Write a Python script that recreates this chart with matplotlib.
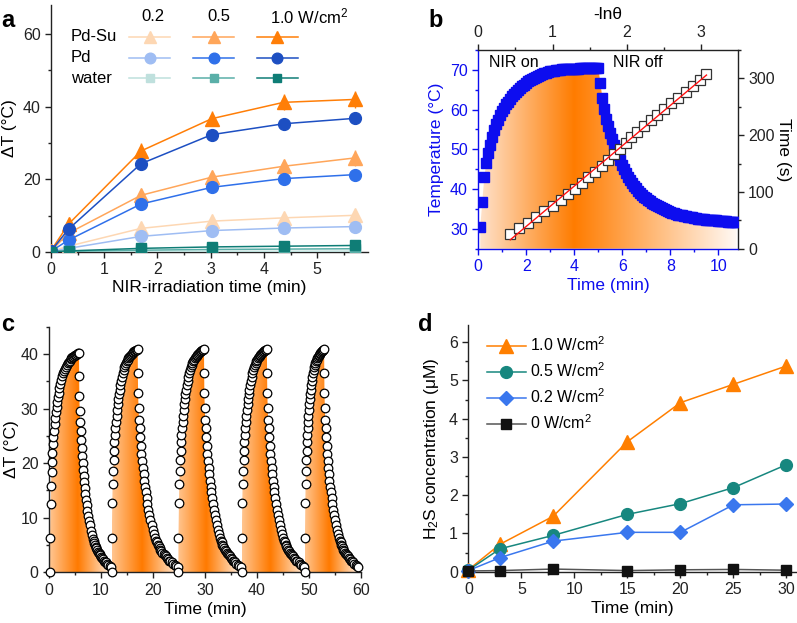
import numpy as np
import matplotlib.pyplot as plt
from matplotlib.colors import LinearSegmentedColormap
from matplotlib.ticker import MultipleLocator

plt.rcParams['font.family'] = ['Liberation Sans', 'DejaVu Sans']
plt.rcParams['mathtext.fontset'] = 'custom'
plt.rcParams['mathtext.rm'] = 'Liberation Sans'
plt.rcParams['mathtext.it'] = 'Liberation Sans:italic'
plt.rcParams['mathtext.bf'] = 'Liberation Sans:bold'

# ---------------- panel a data ----------------
t_a = [0, 0.33, 1.69, 3.02, 4.37, 5.71]
pdsu_10 = [0.4, 7.7, 27.8, 36.7, 41.2, 42.0]
pdsu_05 = [0.3, 5.2, 15.6, 20.6, 23.6, 25.9]
pdsu_02 = [0.2, 1.6, 6.5, 8.5, 9.4, 10.1]
pd_10 = [0.3, 6.3, 24.3, 32.3, 35.3, 36.8]
pd_05 = [0.2, 3.3, 13.2, 17.8, 20.2, 21.3]
pd_02 = [0.1, 1.0, 4.3, 5.9, 6.6, 7.0]
wat_10 = [0.1, 0.3, 1.0, 1.4, 1.6, 1.8]
wat_05 = [0.1, 0.2, 0.5, 0.7, 0.8, 0.9]
wat_02 = [0.0, 0.1, 0.1, 0.2, 0.2, 0.25]
err_pdsu_10 = [0, 0.8, 2.2, 2.0, 2.2, 2.3]
err_pdsu_05 = [0, 0.5, 1.8, 1.5, 1.8, 2.2]
err_small = [0, 0.3, 0.8, 0.8, 0.8, 0.8]

# ---------------- panel b data ----------------
t_b_heat_s = np.arange(5, 305, 5)
T_b_heat = [30.5, 36.8, 43.0, 46.5, 49.2, 51.2, 53.1, 54.8, 56.3, 57.5,
            58.6, 59.6, 60.5, 61.3, 62.0, 62.7, 63.4, 64.0, 64.5, 65.0,
            65.5, 65.9, 66.3, 66.7, 67.1, 67.4, 67.7, 68.0, 68.3, 68.5,
            68.7, 68.9, 69.1, 69.3, 69.5, 69.6, 69.7, 69.8, 69.9, 70.0,
            70.0, 70.1, 70.1, 70.2, 70.2, 70.2, 70.3, 70.3, 70.3, 70.3,
            70.4, 70.4, 70.4, 70.4, 70.4, 70.5, 70.5, 70.5, 70.5, 70.5]
t_b_cool_s = np.arange(305, 650, 5)
T_b_cool = [66.6, 63.0, 60.1, 57.6, 55.8, 54.2, 52.6, 51.1, 49.7, 48.5,
            47.3, 46.1, 45.0, 44.0, 43.1, 42.2, 41.5, 40.8, 40.2, 39.6,
            39.1, 38.6, 38.1, 37.7, 37.3, 36.9, 36.6, 36.3, 36.0, 35.7,
            35.4, 35.2, 34.9, 34.7, 34.5, 34.3, 34.1, 33.9, 33.8, 33.6,
            33.5, 33.4, 33.3, 33.2, 33.1, 33.0, 32.9, 32.8, 32.7, 32.6,
            32.5, 32.5, 32.4, 32.3, 32.3, 32.2, 32.2, 32.1, 32.1, 32.0,
            32.0, 31.9, 31.9, 31.9, 31.8, 31.8, 31.8, 31.7, 31.7]
lntheta = [0.43, 0.55, 0.67, 0.78, 0.88, 1.00, 1.11, 1.21, 1.30, 1.39,
           1.48, 1.57, 1.66, 1.74, 1.82, 1.90, 1.99, 2.06, 2.14, 2.23,
           2.32, 2.41, 2.50, 2.59, 2.69, 2.80, 2.89, 2.98, 3.07]
t_lntheta = [26, 36, 46, 56, 66, 76, 86, 96, 106, 116, 126, 136, 146, 156,
             166, 176, 186, 196, 206, 216, 226, 236, 246, 256, 266, 276,
             287, 297, 307]

# ---------------- panel c data (cycle 1 read, other cycles share its shape) ----------------
c_heat_t = [0.17, 0.19, 0.30, 0.38, 0.48, 0.58, 0.65, 0.72, 0.83, 0.96,
            1.09, 1.22, 1.35, 1.47, 1.60, 1.73, 1.86, 1.99, 2.18, 2.37,
            2.56, 2.76, 2.92, 3.08, 3.25, 3.42, 3.60, 3.78, 3.96, 4.14,
            4.32, 4.50, 4.68, 4.86, 5.04, 5.22, 5.40, 5.58, 5.77]
c_heat_T = [0.0, 6.2, 12.5, 15.9, 18.3, 20.3, 21.8, 23.5, 24.7, 25.9,
            27.1, 28.2, 29.3, 30.3, 31.2, 32.1, 32.9, 33.7, 34.5, 35.2,
            35.9, 36.5, 36.9, 37.3, 37.7, 38.0, 38.3, 38.6, 38.8, 39.0,
            39.2, 39.4, 39.5, 39.7, 39.8, 39.9, 40.0, 40.1, 40.2]
c_cool_t = [5.80, 5.83, 5.90, 5.96, 6.09, 6.15, 6.28, 6.35, 6.47, 6.54,
            6.67, 6.73, 6.86, 6.99, 7.12, 7.24, 7.37, 7.56, 7.69, 7.88,
            8.08, 8.27, 8.46, 8.60, 8.72, 8.85, 8.97, 9.10, 9.23, 9.39,
            9.55, 9.71, 9.87, 10.03, 10.19, 10.38, 10.58, 10.77, 10.96, 11.18,
            11.41, 11.66, 11.92]
c_cool_T = [35.9, 32.3, 29.6, 27.5, 25.9, 24.3, 22.8, 21.3, 20.1, 18.8,
            17.7, 16.5, 15.4, 14.4, 13.3, 12.3, 11.3, 10.3, 9.4, 8.6,
            7.6, 6.9, 6.1, 5.7, 5.4, 5.0, 4.7, 4.4, 4.1, 3.8,
            3.5, 3.3, 3.1, 2.85, 2.6, 2.35, 2.1, 1.95, 1.8, 1.55,
            1.3, 1.1, 0.9]
cyc_start = [0.17, 12.05, 24.87, 37.05, 49.2]
cyc_peak = [5.77, 17.05, 29.8, 41.9, 52.9]
cyc_end = [11.92, 24.8, 36.9, 49.1, 59.5]
cyc_max = [40.2, 40.9, 40.9, 40.9, 40.9]

# ---------------- panel d data ----------------
t_d = [0, 3, 8, 15, 20, 25, 30]
h2s_10 = [0.05, 0.72, 1.45, 3.40, 4.42, 4.90, 5.38]
h2s_05 = [0.04, 0.60, 0.95, 1.50, 1.78, 2.20, 2.80]
h2s_02 = [0.03, 0.37, 0.80, 1.03, 1.03, 1.75, 1.77]
h2s_00 = [0.02, 0.03, 0.07, 0.03, 0.05, 0.06, 0.04]
d_labels = ['1.0 W/cm$^\\mathregular{2}$', '0.5 W/cm$^\\mathregular{2}$',
            '0.2 W/cm$^\\mathregular{2}$', '0 W/cm$^\\mathregular{2}$']

TICK = 11.5
LAB = 12.5
cmap_b = LinearSegmentedColormap.from_list('b', [(0, '#fee4cf'), (0.37, '#ff7c00'), (1, '#fffaf6')])
cmap_c = LinearSegmentedColormap.from_list('c', [(0, '#ffc590'), (0.45, '#ff7a00'), (1, '#ffefe0')])


def grad_fill(ax, x, y, y0, x0, x1, ytop, cmap):
    poly = ax.fill_between(x, y, y0, facecolor='none', edgecolor='none')
    im = ax.imshow(np.linspace(0, 1, 256)[None, :], extent=[x0, x1, y0, ytop],
                   aspect='auto', cmap=cmap, origin='lower', zorder=1,
                   interpolation='bilinear')
    im.set_clip_path(poly.get_paths()[0], transform=ax.transData)


def style(ax, color='#222222'):
    ax.tick_params(which='both', direction='out', width=1, labelsize=TICK,
                   colors=color)
    ax.tick_params(which='major', length=4)
    ax.tick_params(which='minor', length=2.5)
    for s in ax.spines.values():
        s.set_linewidth(1)
        s.set_color(color)


fig = plt.figure(figsize=(7.97, 6.23), dpi=100)

# ======== a ========
ax = fig.add_axes([0.064, 0.5955, 0.398, 0.3965])
a_series = [
    (pdsu_02, '#fdd7b3', '^', 9.5, err_small),
    (pd_02, '#9fbdf3', 'o', 8.5, err_small),
    (wat_02, '#bfe0dd', 's', 7, None),
    (pdsu_05, '#ffa65a', '^', 9.5, err_pdsu_05),
    (pd_05, '#2f70ea', 'o', 8.5, err_small),
    (wat_05, '#5aafa8', 's', 7, None),
    (pdsu_10, '#ff7e07', '^', 9.5, err_pdsu_10),
    (pd_10, '#1d4fc2', 'o', 8.5, err_small),
    (wat_10, '#0f7d76', 's', 7, None),
]
handles = []
for vals, col, mk, ms, err in a_series:
    if err is not None:
        ax.errorbar(t_a, vals, yerr=err, fmt='none', ecolor=col, elinewidth=1,
                    capsize=0, zorder=2)
    h, = ax.plot(t_a, vals, color=col, marker=mk, ms=ms, lw=1.1,
                 mec=col, zorder=3)
    handles.append(h)
ax.set_xlim(0, 5.96)
ax.set_ylim(0, 68)
ax.xaxis.set_major_locator(MultipleLocator(1))
ax.xaxis.set_minor_locator(MultipleLocator(0.5))
ax.yaxis.set_major_locator(MultipleLocator(20))
ax.yaxis.set_minor_locator(MultipleLocator(10))
ax.spines['top'].set_visible(False)
ax.spines['right'].set_visible(False)
style(ax)
ax.set_xlabel('NIR-irradiation time (min)', fontsize=LAB, labelpad=2)
ax.set_ylabel('ΔT (°C)', fontsize=LAB, labelpad=4)
ax.legend(handles, [' '] * 9, ncol=3, loc='upper left',
          bbox_to_anchor=(0.245, 0.895), frameon=False, fontsize=12,
          handlelength=2.5, handletextpad=0, columnspacing=1.06,
          labelspacing=0.33, borderpad=0, borderaxespad=0, markerscale=0.9)
for lab, xf in [('0.2', 0.321), ('0.5', 0.529)]:
    ax.text(xf, 0.955, lab, transform=ax.transAxes, ha='center', va='center',
            fontsize=12)
ax.text(0.69, 0.955, '1.0 W/cm$^\\mathregular{2}$', transform=ax.transAxes,
        ha='left', va='center', fontsize=12)
for lab, yf in [('Pd-Su', 0.872), ('Pd', 0.788), ('water', 0.703)]:
    ax.text(0.062, yf, lab, transform=ax.transAxes, ha='left', va='center',
            fontsize=12)
fig.text(0.002, 0.985, 'a', fontsize=17, fontweight='bold', va='top')

# ======== b ========
BLUE = '#0d0def'
pos_b = [0.6001, 0.6008, 0.3255, 0.3189]
axb = fig.add_axes(pos_b)
tb = np.concatenate([t_b_heat_s, t_b_cool_s]) / 60.0
Tb = np.concatenate([T_b_heat, T_b_cool])
grad_fill(axb, tb, Tb, 25, 0, 10.8, 72, cmap_b)
axb.plot(tb, Tb, ls='none', marker='s', ms=6.8, color=BLUE, mec=BLUE, zorder=3)
axb.set_xlim(0, 10.8)
axb.set_ylim(25, 75)
axb.xaxis.set_major_locator(MultipleLocator(2))
axb.xaxis.set_minor_locator(MultipleLocator(1))
axb.yaxis.set_major_locator(MultipleLocator(10))
axb.yaxis.set_minor_locator(MultipleLocator(5))
style(axb, BLUE)
axb.spines['top'].set_color('#222222')
axb.spines['right'].set_color('#222222')
axb.set_xlabel('Time (min)', fontsize=LAB, color=BLUE, labelpad=3)
axb.set_ylabel('Temperature (°C)', fontsize=LAB, color=BLUE, labelpad=4)
axb.text(0.45, 71.8, 'NIR on', fontsize=11.5, va='center', zorder=5)
axb.text(5.6, 71.8, 'NIR off', fontsize=11.5, va='center', zorder=5)

ax2 = fig.add_axes(pos_b, frameon=False)
ax2.plot(lntheta, t_lntheta, ls='none', marker='s', ms=6.6, mfc='white',
         mec='#333333', mew=0.9, zorder=3)
k, b0 = np.polyfit(lntheta, t_lntheta, 1)
xf = np.array([min(lntheta), max(lntheta)])
ax2.plot(xf, k * xf + b0, color='#ff1010', lw=1.0, zorder=4)
ax2.set_xlim(0, 3.49)
ax2.set_ylim(0, 350)
ax2.xaxis.set_ticks_position('top')
ax2.xaxis.set_label_position('top')
ax2.yaxis.set_ticks_position('right')
ax2.yaxis.set_label_position('right')
ax2.xaxis.set_major_locator(MultipleLocator(1))
ax2.xaxis.set_minor_locator(MultipleLocator(0.5))
ax2.yaxis.set_major_locator(MultipleLocator(100))
ax2.yaxis.set_minor_locator(MultipleLocator(50))
style(ax2)
ax2.set_xlabel('-lnθ', fontsize=LAB, labelpad=4)
ax2.set_ylabel('Time (s)', fontsize=LAB, rotation=270, labelpad=12)
fig.text(0.538, 0.985, 'b', fontsize=17, fontweight='bold', va='top')

# ======== c ========
axc = fig.add_axes([0.0615, 0.0814, 0.3915, 0.3942])
h0, p0, e0 = cyc_start[0], cyc_peak[0], cyc_end[0]
for s, p, e, m in zip(cyc_start, cyc_peak, cyc_end, cyc_max):
    th = s + (np.array(c_heat_t) - h0) * (p - s) / (p0 - h0)
    tc = p + (np.array(c_cool_t) - p0) * (e - p) / (e0 - p0)
    tt = np.concatenate([th, tc])
    TT = np.concatenate([c_heat_T, c_cool_T]) * m / cyc_max[0]
    grad_fill(axc, tt, TT, 0, s, e, 42, cmap_c)
    axc.plot(tt, TT, ls='none', marker='o', ms=6.2, mfc='white',
             mec='black', mew=0.9, zorder=3, clip_on=False)
axc.set_xlim(0, 60)
axc.set_ylim(0, 45)
axc.xaxis.set_major_locator(MultipleLocator(10))
axc.xaxis.set_minor_locator(MultipleLocator(5))
axc.yaxis.set_major_locator(MultipleLocator(10))
axc.yaxis.set_minor_locator(MultipleLocator(5))
axc.spines['top'].set_visible(False)
axc.spines['right'].set_visible(False)
style(axc)
axc.set_xlabel('Time (min)', fontsize=LAB, labelpad=3)
axc.set_ylabel('ΔT (°C)', fontsize=LAB, labelpad=1)
fig.text(0.002, 0.497, 'c', fontsize=17, fontweight='bold', va='top')

# ======== d ========
axd = fig.add_axes([0.5876, 0.0823, 0.4112, 0.396])
d_series = [
    (h2s_10, '#ff7f00', '^', 9.5),
    (h2s_05, '#17877f', 'o', 8.5),
    (h2s_02, '#3a77ee', 'D', 7.5),
    (h2s_00, '#111111', 's', 6.5),
]
dh = []
for (vals, col, mk, ms), lab in zip(d_series, d_labels):
    lc = '#555555' if col == '#111111' else col
    h, = axd.plot(t_d, vals, color=lc, marker=mk, ms=ms, mfc=col, mec=col,
                  lw=1.1, label=lab, clip_on=False, zorder=3)
    dh.append(h)
axd.set_xlim(0, 30.9)
axd.set_ylim(0, 6.45)
axd.xaxis.set_major_locator(MultipleLocator(5))
axd.xaxis.set_minor_locator(MultipleLocator(2.5))
axd.yaxis.set_major_locator(MultipleLocator(1))
axd.yaxis.set_minor_locator(MultipleLocator(0.5))
axd.spines['top'].set_visible(False)
axd.spines['right'].set_visible(False)
style(axd)
axd.set_xlabel('Time (min)', fontsize=LAB, labelpad=3)
axd.set_ylabel('H$_\\mathregular{2}$S concentration (μM)', fontsize=LAB, labelpad=6)
axd.legend(handles=dh, loc='upper left', bbox_to_anchor=(0.058, 0.957),
           frameon=False, fontsize=11.5, handlelength=2.4, handletextpad=0.3,
           labelspacing=0.46, borderpad=0, borderaxespad=0)
fig.text(0.524, 0.497, 'd', fontsize=17, fontweight='bold', va='top')

fig.savefig('out.png', dpi=100)
